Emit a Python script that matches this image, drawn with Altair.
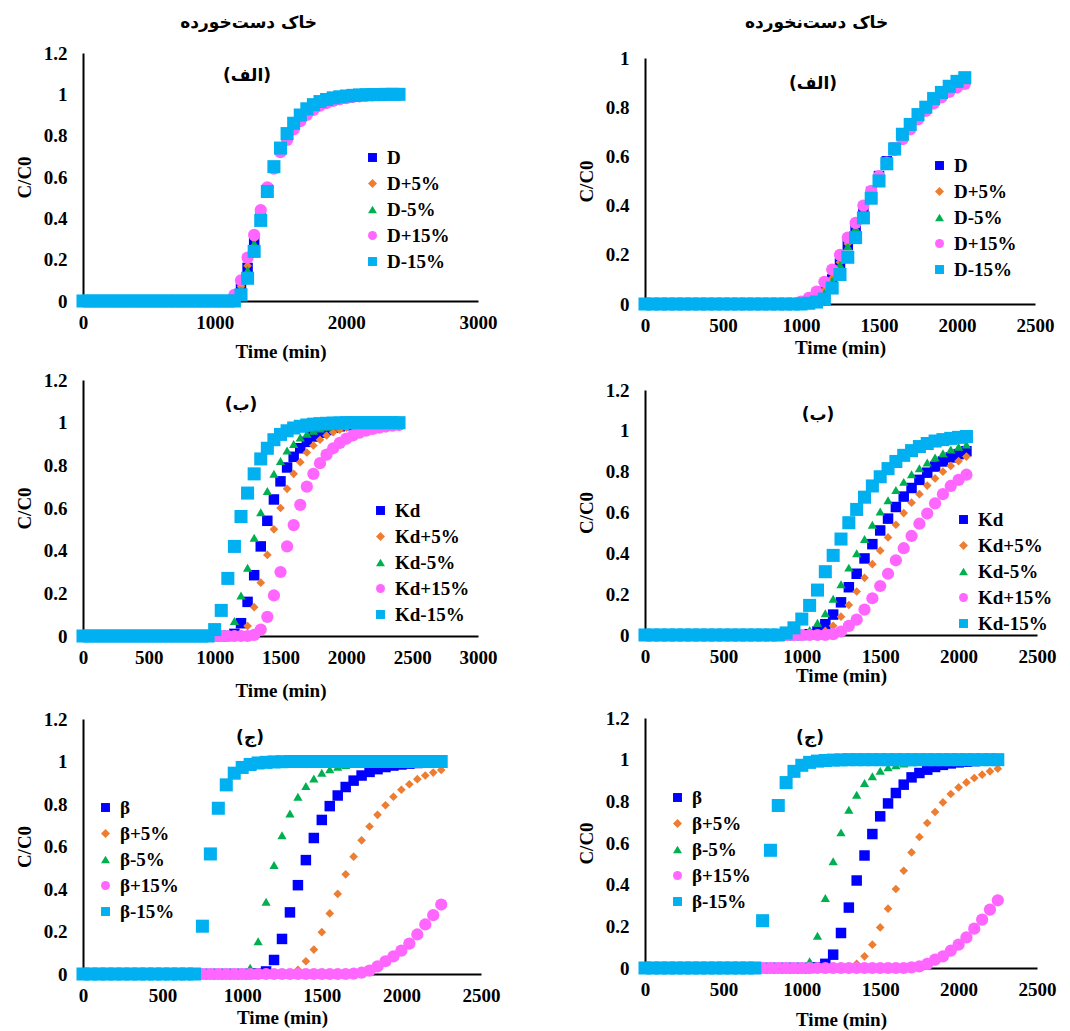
import altair as alt
import pandas as pd

# ---------------- sampling times (min) ----------------
T_L12 = list(range(0, 2401, 50))   # left column, rows 1-2
T_R12 = list(range(0, 2051, 50))   # right column, rows 1-2
T_3 = list(range(0, 2251, 50))     # both columns, row 3

# ---------------- Row 1 left : D (disturbed soil) ----------------
D_L1 = [0] * 23 + [0.01, 0.06, 0.16, 0.29, 0.42, 0.54, 0.65, 0.735, 0.80, 0.85, 0.89, 0.92, 0.94,
                   0.957, 0.97, 0.978, 0.985, 0.99, 0.993, 0.995, 0.997, 0.998, 0.999, 0.999, 1.0, 1.0]
Dp5_L1 = [0] * 23 + [0.015, 0.07, 0.17, 0.30, 0.43, 0.545, 0.645, 0.73, 0.795, 0.845, 0.885, 0.915, 0.937,
                     0.953, 0.966, 0.975, 0.982, 0.987, 0.991, 0.994, 0.996, 0.997, 0.998, 0.999, 0.999, 1.0]
Dm5_L1 = [0] * 23 + [0.008, 0.05, 0.15, 0.28, 0.415, 0.54, 0.65, 0.74, 0.805, 0.855, 0.895, 0.925, 0.945,
                     0.96, 0.972, 0.98, 0.986, 0.99, 0.993, 0.995, 0.997, 0.998, 0.999, 0.999, 1.0, 1.0]
Dp15_L1 = [0] * 23 + [0.03, 0.10, 0.21, 0.32, 0.44, 0.55, 0.64, 0.72, 0.78, 0.83, 0.87, 0.90, 0.925,
                      0.945, 0.958, 0.968, 0.976, 0.982, 0.987, 0.99, 0.993, 0.995, 0.996, 0.997, 0.998, 0.998]
Dm15_L1 = [0] * 23 + [0.0, 0.03, 0.11, 0.24, 0.39, 0.53, 0.65, 0.74, 0.81, 0.86, 0.90, 0.93, 0.95,
                      0.965, 0.975, 0.983, 0.988, 0.992, 0.995, 0.997, 0.998, 0.999, 0.999, 1.0, 1.0, 1.0]

# ---------------- Row 1 right : D (undisturbed soil) ----------------
D_R1 = [0] * 21 + [0.005, 0.02, 0.05, 0.10, 0.165, 0.24, 0.31, 0.385, 0.455, 0.52, 0.58, 0.635, 0.685,
                   0.725, 0.765, 0.80, 0.83, 0.855, 0.877, 0.896, 0.912]
Dp5_R1 = [0] * 21 + [0.007, 0.025, 0.055, 0.105, 0.17, 0.245, 0.315, 0.39, 0.46, 0.52, 0.58, 0.633, 0.682,
                     0.722, 0.762, 0.797, 0.827, 0.852, 0.874, 0.893, 0.909]
Dm5_R1 = [0] * 21 + [0.004, 0.017, 0.045, 0.095, 0.16, 0.235, 0.31, 0.38, 0.45, 0.52, 0.58, 0.637, 0.687,
                     0.73, 0.768, 0.803, 0.833, 0.858, 0.88, 0.899, 0.915]
Dp15_R1 = [0] * 20 + [0.01, 0.025, 0.05, 0.09, 0.14, 0.20, 0.27, 0.33, 0.40, 0.46, 0.52, 0.575, 0.625,
                      0.67, 0.71, 0.75, 0.785, 0.815, 0.84, 0.862, 0.88, 0.895]
Dm15_R1 = [0] * 21 + [0.003, 0.008, 0.02, 0.065, 0.12, 0.19, 0.27, 0.35, 0.43, 0.50, 0.57, 0.63, 0.69,
                      0.73, 0.77, 0.80, 0.835, 0.86, 0.885, 0.905, 0.92]

# ---------------- Row 2 left : Kd ----------------
Kd_L2 = [0] * 23 + [0.01, 0.06, 0.16, 0.285, 0.42, 0.54, 0.64, 0.725, 0.79, 0.84, 0.88, 0.91, 0.935,
                    0.953, 0.966, 0.976, 0.983, 0.988, 0.992, 0.994, 0.996, 0.997, 0.998, 0.999, 0.999, 1.0]
Kdp5_L2 = [0] * 24 + [0.01, 0.047, 0.135, 0.25, 0.38, 0.50, 0.60, 0.69, 0.76, 0.815, 0.86, 0.893, 0.92,
                      0.94, 0.955, 0.967, 0.976, 0.983, 0.988, 0.991, 0.994, 0.996, 0.997, 0.998, 0.999]
Kdm5_L2 = [0] * 22 + [0.01, 0.07, 0.19, 0.32, 0.46, 0.58, 0.68, 0.76, 0.82, 0.87, 0.90, 0.93, 0.948,
                      0.962, 0.973, 0.981, 0.987, 0.991, 0.994, 0.996, 0.997, 0.998, 0.999, 0.999, 1.0, 1.0, 1.0]
Kdp15_L2 = [0] * 26 + [0.005, 0.03, 0.09, 0.19, 0.30, 0.42, 0.52, 0.615, 0.70, 0.76, 0.81, 0.85, 0.88,
                       0.905, 0.925, 0.94, 0.953, 0.963, 0.971, 0.977, 0.982, 0.986, 0.989]
Kdm15_L2 = [0] * 20 + [0.03, 0.12, 0.27, 0.42, 0.56, 0.67, 0.76, 0.83, 0.88, 0.92, 0.945, 0.962, 0.975,
                       0.983, 0.989, 0.993, 0.995, 0.997, 0.998, 0.999, 1.0, 1.0, 1.0, 1.0, 1.0, 1.0, 1.0, 1.0, 1.0]

# ---------------- Row 2 right : Kd ----------------
Kd_R2 = [0] * 21 + [0.004, 0.017, 0.053, 0.10, 0.16, 0.234, 0.30, 0.375, 0.445, 0.512, 0.57, 0.627, 0.678,
                    0.72, 0.76, 0.795, 0.825, 0.85, 0.87, 0.886, 0.90]
Kdp5_R2 = [0] * 22 + [0.005, 0.02, 0.045, 0.09, 0.147, 0.213, 0.28, 0.347, 0.413, 0.478, 0.54, 0.597,
                      0.648, 0.69, 0.732, 0.767, 0.80, 0.828, 0.852, 0.874]
Kdm5_R2 = [0] * 20 + [0.005, 0.025, 0.06, 0.107, 0.177, 0.248, 0.33, 0.40, 0.47, 0.54, 0.605, 0.66, 0.71,
                      0.75, 0.787, 0.817, 0.845, 0.87, 0.89, 0.908, 0.922, 0.933]
Kdp15_R2 = [0] * 24 + [0.004, 0.017, 0.045, 0.075, 0.124, 0.18, 0.24, 0.30, 0.366, 0.425, 0.485, 0.545,
                       0.595, 0.645, 0.69, 0.73, 0.76, 0.785]
Kdm15_R2 = [0] * 18 + [0.01, 0.035, 0.078, 0.145, 0.22, 0.31, 0.39, 0.47, 0.55, 0.615, 0.675, 0.73, 0.775,
                       0.815, 0.85, 0.88, 0.903, 0.923, 0.938, 0.95, 0.957, 0.963, 0.968, 0.972]

# ---------------- Row 3 left : beta ----------------
B_L3 = [0] * 22 + [0.002, 0.012, 0.066, 0.165, 0.29, 0.418, 0.536, 0.64, 0.725, 0.79, 0.84, 0.88, 0.91,
                   0.934, 0.951, 0.964, 0.974, 0.981, 0.986, 0.99, 0.993, 0.995, 0.996, 0.997]
Bp5_L3 = [0] * 26 + [0.005, 0.02, 0.06, 0.115, 0.197, 0.285, 0.377, 0.469, 0.552, 0.629, 0.694, 0.749,
                     0.794, 0.834, 0.867, 0.893, 0.917, 0.934, 0.948, 0.96]
Bm5_L3 = [0] * 20 + [0.003, 0.03, 0.154, 0.34, 0.513, 0.653, 0.755, 0.834, 0.885, 0.92, 0.947, 0.963,
                     0.975, 0.983, 0.989, 0.993, 0.995, 0.997, 0.998, 0.999, 1.0, 1.0, 1.0, 1.0, 1.0, 1.0]
Bp15_L3 = [0] * 34 + [0.002, 0.006, 0.016, 0.036, 0.06, 0.083, 0.11, 0.143, 0.186, 0.233, 0.277, 0.327]
Bm15_L3 = [0] * 15 + [0.225, 0.565, 0.78, 0.89, 0.945, 0.972, 0.986, 0.993, 0.996, 0.998, 0.999] + [1.0] * 20

# ---------------- Row 3 right : beta ----------------
B_R3 = [0] * 22 + [0.003, 0.02, 0.064, 0.168, 0.29, 0.42, 0.54, 0.643, 0.728, 0.79, 0.84, 0.88, 0.915,
                   0.936, 0.952, 0.965, 0.975, 0.982, 0.987, 0.99, 0.993, 0.995, 0.996, 0.997]
Bp5_R3 = [0] * 26 + [0.005, 0.02, 0.056, 0.112, 0.195, 0.285, 0.379, 0.467, 0.555, 0.629, 0.696, 0.749,
                     0.795, 0.835, 0.867, 0.891, 0.912, 0.928, 0.944, 0.957]
Bm5_R3 = [0] * 20 + [0.003, 0.032, 0.155, 0.336, 0.512, 0.651, 0.76, 0.832, 0.888, 0.92, 0.947, 0.963,
                     0.973, 0.982, 0.988, 0.992, 0.995, 0.997, 0.998, 0.999, 1.0, 1.0, 1.0, 1.0, 1.0, 1.0]
Bp15_R3 = [0] * 34 + [0.003, 0.008, 0.02, 0.04, 0.056, 0.083, 0.112, 0.147, 0.189, 0.232, 0.28, 0.325]
Bm15_R3 = [0] * 15 + [0.227, 0.565, 0.78, 0.89, 0.944, 0.973, 0.987, 0.993, 0.996, 0.998, 0.999] + [1.0] * 20

# ---------------- styling ----------------
SUFFIX = ["", "+5%", "-5%", "+15%", "-15%"]
COLORS = ["#0000FF", "#ED7D31", "#00B050", "#FF66FF", "#00B0F0"]
SHAPES = ["square", "diamond", "triangle-up", "circle", "square"]
SIZES = [110, 75, 85, 150, 170]

COL_TITLES = ["خاک دست\u200cخورده", "خاک دست\u200cنخورده"]
PANEL_LABELS = ["(الف)", "(ب)", "(ج)"]

SERIF = "Liberation Serif"
PERSIAN = "DejaVu Sans"


def panel(times, series, param, xmax, xticks, ymax, yticks, label, lab_xy, leg_xy, w, h,
          x_title_pad, y_top=0):
    names = [param + s for s in SUFFIX]
    color_scale = alt.Scale(domain=names, range=COLORS)
    shape_scale = alt.Scale(domain=names, range=SHAPES)
    legend = alt.Legend(
        title=None, orient="none", legendX=leg_xy[0], legendY=leg_xy[1],
        labelFont=SERIF, labelFontSize=19, labelFontWeight="bold", labelColor="black",
        symbolSize=80, symbolStrokeWidth=0, symbolOpacity=1, rowPadding=6, labelOffset=5,
        padding=0, labelLimit=200,
    )
    if y_top:
        y_scale = alt.Scale(domain=[0, ymax], nice=False, zero=True, range=[h, y_top])
    else:
        y_scale = alt.Scale(domain=[0, ymax], nice=False, zero=True)
    layers = []
    for i, (name, vals) in enumerate(zip(names, series)):
        assert len(vals) == len(times), (name, len(vals), len(times))
        df = pd.DataFrame({"t": times, "c": vals, "series": name})
        layers.append(
            alt.Chart(df).mark_point(filled=True, opacity=1, strokeWidth=0).encode(
                x=alt.X("t:Q", scale=alt.Scale(domain=[0, xmax], nice=False, zero=True),
                        axis=alt.Axis(values=xticks, format="d", title="Time (min)",
                                      titlePadding=x_title_pad)),
                y=alt.Y("c:Q", scale=y_scale,
                        axis=alt.Axis(values=yticks, format=".1~f", title="C/C0")),
                color=alt.Color("series:N", scale=color_scale, legend=legend),
                shape=alt.Shape("series:N", scale=shape_scale, legend=legend),
                size=alt.value(SIZES[i]),
            )
        )
    lab = alt.Chart(pd.DataFrame({"l": [label]})).mark_text(
        font=PERSIAN, fontSize=17, fontWeight="bold", color="black", align="center", baseline="middle"
    ).encode(text="l:N", x=alt.value(lab_xy[0]), y=alt.value(lab_xy[1]))
    layers.append(lab)
    return alt.layer(*layers).properties(width=w, height=h)


Y12 = [0, 0.2, 0.4, 0.6, 0.8, 1, 1.2]
Y10 = [0, 0.2, 0.4, 0.6, 0.8, 1]
X25 = [0, 500, 1000, 1500, 2000, 2500]

p11 = panel(T_L12, [D_L1, Dp5_L1, Dm5_L1, Dp15_L1, Dm15_L1], "D", 3000, [0, 1000, 2000, 3000],
            1.2, Y12, PANEL_LABELS[0], (164, 23), (280, 95), 395, 248, 10)
p21 = panel(T_L12, [Kd_L2, Kdp5_L2, Kdm5_L2, Kdp15_L2, Kdm15_L2], "Kd", 3000,
            [0, 500, 1000, 1500, 2000, 2500, 3000],
            1.2, Y12, PANEL_LABELS[1], (158, 25), (288, 121), 395, 256, 14)
p31 = panel(T_3, [B_L3, Bp5_L3, Bm5_L3, Bp15_L3, Bm15_L3], "β", 2500, X25,
            1.2, Y12, PANEL_LABELS[2], (167, 19), (13, 79), 398, 255, 3)

p12 = panel(T_R12, [D_R1, Dp5_R1, Dm5_R1, Dp15_R1, Dm15_R1], "D", 2500, X25,
            1.0, Y10, PANEL_LABELS[0], (168, 31), (285, 103), 390, 251, 3, y_top=5)
p22 = panel(T_R12, [Kd_R2, Kdp5_R2, Kdm5_R2, Kdp15_R2, Kdm15_R2], "Kd", 2500, X25,
            1.2, Y12, PANEL_LABELS[1], (173, 25), (309, 120), 392, 245, 0)
p32 = panel(T_3, [B_R3, Bp5_R3, Bm5_R3, Bp15_R3, Bm15_R3], "β", 2500, X25,
            1.2, Y12, PANEL_LABELS[2], (165, 20), (23, 70), 392, 250, 11)

RES = dict(color="independent", shape="independent", x="independent", y="independent")


def column(panels, title, offset, spacing, dx):
    return alt.vconcat(
        *panels, spacing=spacing,
        title=alt.TitleParams(title, font=PERSIAN, fontSize=17, fontWeight="bold", color="black",
                              anchor="middle", offset=offset, dx=dx),
    ).resolve_scale(**RES).resolve_legend(color="independent", shape="independent")


col1 = column([p11, p21, p31], COL_TITLES[0], 12, 10, -9)
col2 = column([p12, p22, p32], COL_TITLES[1], 17, 24, 0)

chart = alt.hconcat(col1, col2, spacing=77).resolve_scale(**RES).resolve_legend(
    color="independent", shape="independent"
).properties(
    padding={"left": 15, "top": 14, "right": 2, "bottom": 1}, background="white"
).configure_view(strokeWidth=0).configure_axis(
    grid=False, ticks=False, tickSize=0, domainColor="black", domainWidth=2,
    labelFont=SERIF, labelFontSize=19, labelFontWeight="bold", labelColor="black",
    labelFlush=False, labelOverlap=False,
    titleFont=SERIF, titleFontSize=19, titleFontWeight="bold", titleColor="black",
).configure_axisX(labelPadding=12).configure_axisY(labelPadding=16, titlePadding=9)

chart.save("out.html", embed_options={"renderer": "svg", "actions": False})
